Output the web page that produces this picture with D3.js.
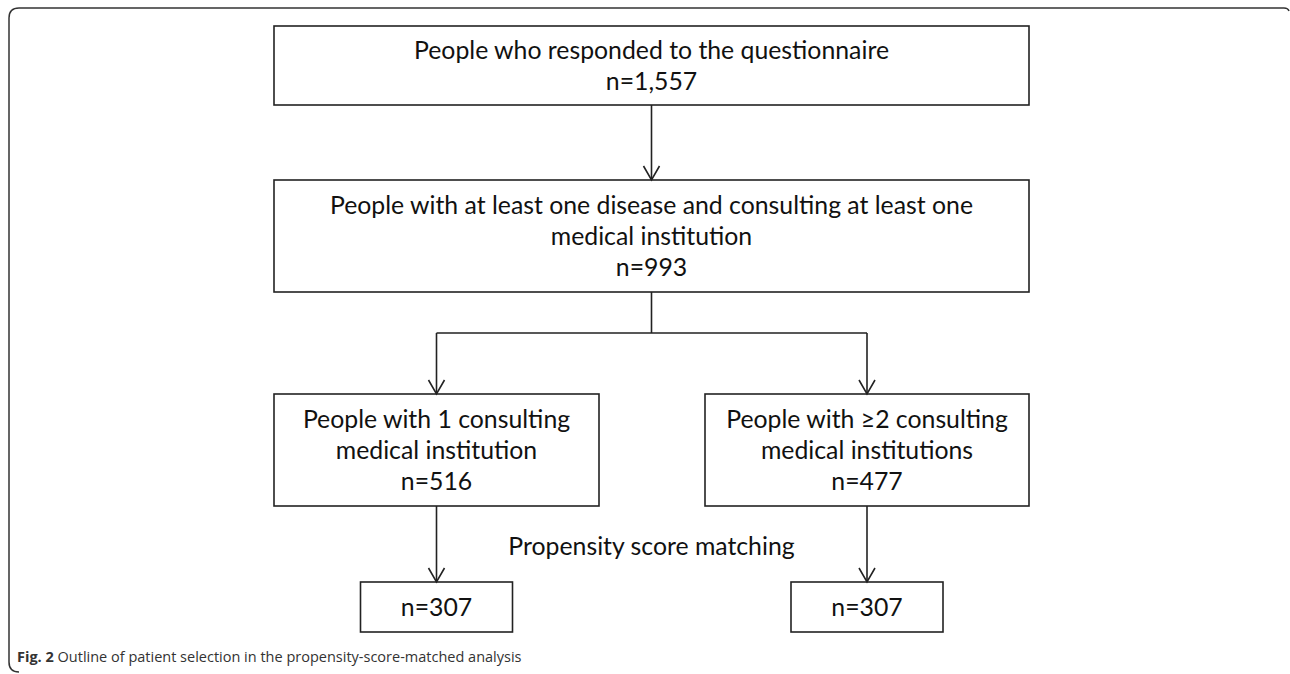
<!DOCTYPE html>
<html>
<head>
<meta charset="utf-8">
<script src="https://cdn.jsdelivr.net/npm/d3@7"></script>
<style>
  body { margin: 0; background: #fff; }
  svg { display: block; }
  .box { fill: #fff; stroke: #222; stroke-width: 1.6; }
  .link { fill: none; stroke: #222; stroke-width: 1.6; }
  .boxText { font-family: Lato, "Open Sans", sans-serif; font-size: 24.8px; fill: #111; }
  .caption { font-family: "Open Sans", sans-serif; font-size: 14.5px; fill: #333; }
</style>
</head>
<body>
<div id="chart"></div>
<script>
// flowchart data
var stageLabels = [
  ["People who responded to the questionnaire"],
  ["People with at least one disease and consulting at least one", "medical institution"],
  ["People with 1 consulting", "medical institution"],
  ["People with \u22652 consulting", "medical institutions"],
  [],
  []
];
var stageCounts = [1557, 993, 516, 477, 307, 307];
var matchLabel = "Propensity score matching";
var captionBold = "Fig. 2";
var captionText = " Outline of patient selection in the propensity-score-matched analysis";

var svgWidth = 1290;
var svgHeight = 674;

var svg = d3.select("#chart")
  .append("svg")
  .attr("width", svgWidth)
  .attr("height", svgHeight);

// outer frame: top edge, rounded corners, left edge (bottom edge is cut off)
var frame = d3.path();
frame.moveTo(1289, 11);
frame.quadraticCurveTo(1288, 8, 1284, 8);
frame.lineTo(19, 8);
frame.quadraticCurveTo(9, 8, 9, 18);
frame.lineTo(9, 662);
frame.quadraticCurveTo(9, 672, 19, 672);
svg.append("path")
  .attr("d", frame.toString())
  .style("fill", "none")
  .style("stroke", "#333")
  .style("stroke-width", 1.5);

// column centres
var colX = d3.scaleOrdinal()
  .domain(["mid", "left", "right"])
  .range([651.5, 436.5, 867]);

// box geometry
var boxes = [
  {col: "mid",   hw: 377.5, y0: 26,  y1: 105},
  {col: "mid",   hw: 377.5, y0: 180, y1: 292},
  {col: "left",  hw: 162.5, y0: 394, y1: 506},
  {col: "right", hw: 162,   y0: 394, y1: 506},
  {col: "left",  hw: 76,    y0: 582, y1: 632},
  {col: "right", hw: 76,    y0: 582, y1: 632}
];

var fmt = d3.format(",");
var lineH = 31;

boxes.forEach(function(b, i) {
  var cx = colX(b.col);
  svg.append("rect")
    .attr("class", "box")
    .attr("x", cx - b.hw)
    .attr("y", b.y0)
    .attr("width", b.hw * 2)
    .attr("height", b.y1 - b.y0);

  var lines = stageLabels[i].concat(["n=" + fmt(stageCounts[i])]);
  var midY = (b.y0 + b.y1) / 2;
  var startY = midY - (lines.length - 1) * lineH / 2;
  svg.selectAll(null)
    .data(lines)
    .enter()
    .append("text")
    .attr("class", "boxText")
    .attr("x", cx)
    .attr("y", function(d, j) { return startY + j * lineH; })
    .attr("dy", "0.35em")
    .attr("text-anchor", "middle")
    .text(function(d) { return d; });
});

// arrow helper - open V head
function arrow(x, ya, yb) {
  svg.append("path")
    .attr("class", "link")
    .attr("d", "M" + x + "," + ya + "V" + yb);
  svg.append("path")
    .attr("class", "link")
    .attr("d", "M" + (x - 8) + "," + (yb - 14) + "L" + x + "," + yb + "L" + (x + 8) + "," + (yb - 14));
}

arrow(colX("mid"), boxes[0].y1, boxes[1].y0);

// split connector
var splitY = 333;
svg.append("path")
  .attr("class", "link")
  .attr("d", "M" + colX("mid") + "," + boxes[1].y1 + "V" + splitY +
             "M" + colX("left") + "," + splitY + "H" + colX("right"));
arrow(colX("left"), splitY, boxes[2].y0);
arrow(colX("right"), splitY, boxes[3].y0);
arrow(colX("left"), boxes[2].y1, boxes[4].y0);
arrow(colX("right"), boxes[3].y1, boxes[5].y0);

svg.append("text")
  .attr("class", "boxText")
  .attr("x", colX("mid"))
  .attr("y", 546)
  .attr("dy", "0.35em")
  .attr("text-anchor", "middle")
  .text(matchLabel);

// caption
var cap = svg.append("text")
  .attr("class", "caption")
  .attr("x", 17)
  .attr("y", 657)
  .attr("dy", "0.35em");
cap.append("tspan").style("font-weight", "bold").text(captionBold);
cap.append("tspan").text(captionText);
</script>
</body>
</html>
